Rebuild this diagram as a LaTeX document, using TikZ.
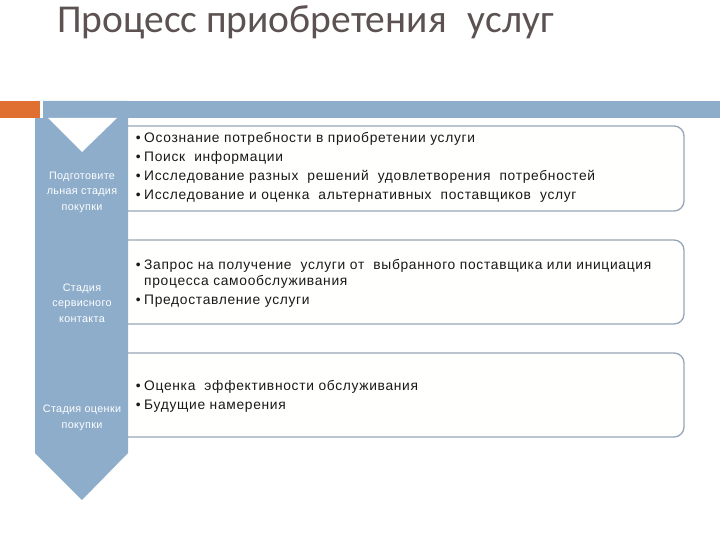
\documentclass[tikz,border=0pt]{standalone}
\usepackage{fontspec}
\setmainfont{Liberation Sans}
\newfontfamily\titlefont{Carlito}
\definecolor{stageblue}{RGB}{141,173,203}
\definecolor{boxline}{RGB}{150,166,182}
\definecolor{barorange}{RGB}{224,112,50}
\definecolor{titlegray}{RGB}{92,82,82}
\definecolor{boxfill}{RGB}{255,255,253}
\definecolor{itemtext}{RGB}{25,25,25}
\tikzset{
  stagebox/.style={draw=boxline, line width=1.3pt, fill=boxfill, rounded corners=10pt},
  item/.style={anchor=base west, inner sep=0pt, text=itemtext, font=\fontsize{13.8}{16}\selectfont\addfontfeature{LetterSpace=5}},
  stagelabel/.style={text=white, align=center, inner sep=0pt, font=\fontsize{10.8}{15.5}\selectfont\addfontfeature{LetterSpace=3}}
}
\newcommand\pointmark{\llap{\textbullet\hspace{3.5pt}}}
\begin{document}
\begin{tikzpicture}[x=1pt,y=-1pt]
\useasboundingbox (0,0) rectangle (720,540);
\node[anchor=base west, inner sep=0pt, text=titlegray, font=\titlefont\fontsize{39.5}{42}\selectfont] (title) at (57,33) {Процесс приобретения\hspace{0.3em} услуг};
% rounded boxes behind the column
\foreach \top/\bot/\name in {126/211/prep, 240/324/contact, 353/437/eval}
  \draw[stagebox] (110,\top) rectangle (684,\bot);
% header bar
\fill[stageblue] (42,101) rectangle (720,118);
% stage column
\fill[stageblue] (35,101) -- (128,101) -- (128,453) -- (82,500) -- (35,453) -- cycle;
\fill[white] (48,118) -- (117,118) -- (82,152) -- cycle;
\fill[barorange] (0,101) rectangle (40,118);
\fill[white] (40,101) rectangle (42.5,118);
\node[stagelabel] (prepstage) at (82,192) {Подготовите\\льная стадия\\покупки};
\node[stagelabel] (contactstage) at (82,303) {Стадия\\сервисного\\контакта};
\node[stagelabel] (evalstage) at (82,418) {Стадия оценки\\покупки};
% items
\foreach \y/\txt [count=\i] in {143/Осознание потребности в приобретении услуги,
    162/Поиск\ \ информации,
    181/Исследование разных\ \ решений\ \ удовлетворения\ \ потребностей,
    200/Исследование и оценка\ \ альтернативных\ \ поставщиков\ \ услуг}
  \node[item] (prep\i) at (144,\y) {\pointmark\txt};
\node[item] (contact1) at (144,269) {\pointmark Запрос на получение\ \ услуги от\ \ выбранного поставщика или инициация};
\node[item] (contact1b) at (144,285) {процесса самообслуживания};
\node[item] (contact2) at (144,304) {\pointmark Предоставление услуги};
\node[item] (eval1) at (144,390) {\pointmark Оценка\ \ эффективности обслуживания};
\node[item] (eval2) at (144,409) {\pointmark Будущие намерения};
\end{tikzpicture}
\end{document}
